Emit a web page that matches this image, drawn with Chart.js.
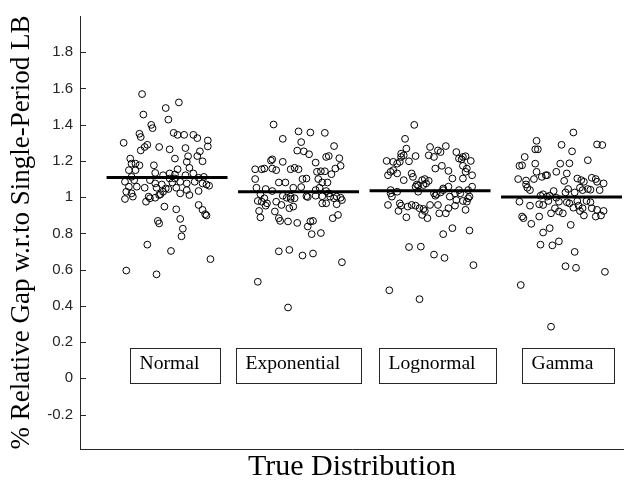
<!DOCTYPE html>
<html>
<head>
<meta charset="utf-8">
<script src="https://cdn.jsdelivr.net/npm/chart.js@4.4.1/dist/chart.umd.min.js"></script>
<style>
html,body{margin:0;padding:0;background:#fff;}
#wrap{width:624px;height:482px;}
</style>
</head>
<body>
<div id="wrap"><canvas id="c" width="624" height="482"></canvas></div>
<script>
const categories = ['Normal', 'Exponential', 'Lognormal', 'Gamma'];

const normalJitter = [-0.19,0.09,-0.01,-0.18,0.01,-0.12,-0.11,-0.21,-0.20,0.05,
 0.08,0.13,0.20,0.23,0.31,-0.33,-0.15,-0.17,-0.06,0.02,
 -0.20,0.14,0.31,0.25,-0.28,0.06,0.16,0.23,0.27,-0.24,
 -0.21,-0.27,-0.10,0.15,0.17,-0.29,-0.24,-0.09,0.08,0.02,
 -0.03,0.06,0.14,0.20,-0.27,-0.25,-0.13,0.02,0.06,0.24,
 0.28,-0.32,-0.09,-0.04,0.04,0.10,0.15,0.21,0.27,0.32,
 0.30,-0.29,-0.23,-0.17,-0.08,-0.01,0.07,0.15,-0.31,-0.27,
 -0.03,0.01,-0.05,0.10,0.17,0.24,-0.26,-0.32,-0.14,-0.13,
 -0.09,-0.06,-0.16,0.24,-0.02,0.07,0.27,0.29,0.30,0.10,
 -0.07,-0.06,0.12,0.11,-0.15,0.03,0.33,-0.31,-0.08];
const normalGap = [1.569,1.523,1.492,1.456,1.428,1.399,1.381,1.350,1.332,1.355,
 1.344,1.344,1.344,1.326,1.313,1.300,1.289,1.277,1.277,1.264,
 1.258,1.271,1.280,1.253,1.213,1.213,1.226,1.227,1.198,1.185,
 1.176,1.185,1.176,1.195,1.162,1.149,1.149,1.134,1.154,1.131,
 1.121,1.125,1.121,1.131,1.112,1.094,1.094,1.103,1.103,1.107,
 1.112,1.085,1.076,1.070,1.081,1.085,1.076,1.085,1.076,1.063,
 1.070,1.058,1.058,1.052,1.052,1.048,1.052,1.039,1.030,1.021,
 1.030,1.045,1.016,1.021,1.012,1.034,1.003,0.990,1.003,0.994,
 0.997,1.012,0.975,0.957,0.948,0.933,0.930,0.906,0.899,0.880,
 0.869,0.855,0.826,0.784,0.738,0.703,0.658,0.595,0.574];

const exponentialJitter = [-0.19,-0.12,0.00,0.09,0.20,0.02,0.27,-0.01,0.04,0.08,
 0.13,0.21,0.23,0.31,-0.12,-0.21,-0.20,-0.33,-0.28,-0.26,
 -0.20,-0.17,-0.06,-0.03,0.00,0.32,0.28,0.14,0.17,0.20,
 0.25,-0.33,-0.15,-0.10,0.03,0.06,0.15,0.18,0.22,0.02,
 -0.32,-0.25,-0.20,-0.04,0.13,0.16,0.21,0.23,-0.29,-0.12,
 -0.09,0.07,0.06,0.13,0.18,0.24,0.29,0.32,0.33,0.27,
 -0.26,-0.31,-0.28,-0.24,-0.25,-0.17,-0.13,-0.06,-0.06,-0.03,
 -0.07,-0.04,0.18,0.21,0.29,-0.30,-0.18,-0.15,-0.14,-0.08,
 -0.01,-0.29,0.26,0.30,0.09,0.11,0.07,0.10,0.17,-0.15,
 -0.07,0.03,0.11,0.33,-0.31,-0.08];
const exponentialGap = [1.401,1.322,1.363,1.357,1.355,1.304,1.282,1.257,1.253,1.237,
 1.191,1.222,1.227,1.215,1.195,1.202,1.209,1.154,1.154,1.158,
 1.158,1.149,1.154,1.162,1.154,1.173,1.158,1.140,1.143,1.143,
 1.127,1.100,1.081,1.081,1.100,1.103,1.100,1.081,1.081,1.056,
 1.052,1.045,1.034,1.052,1.039,1.052,1.034,1.021,1.016,1.008,
 0.997,1.001,1.005,1.008,1.005,1.003,1.003,0.997,0.984,0.994,
 0.994,0.979,0.975,0.966,0.953,0.975,0.957,1.003,0.990,0.994,
 0.939,0.948,0.966,0.966,0.961,0.924,0.921,0.884,0.869,0.866,
 0.858,0.888,0.884,0.902,0.866,0.869,0.838,0.796,0.802,0.701,
 0.709,0.678,0.689,0.641,0.533,0.391];

const lognormalJitter = [-0.12,-0.19,-0.18,-0.22,-0.20,-0.22,-0.11,0.00,-0.01,0.03,
 0.06,0.08,0.12,0.20,0.22,0.24,0.25,0.27,0.31,-0.33,
 -0.28,-0.25,-0.23,-0.16,-0.30,-0.28,-0.25,-0.32,0.04,0.09,
 0.14,0.25,0.28,0.27,0.32,-0.14,-0.13,-0.20,0.17,0.25,
 -0.10,-0.11,-0.06,-0.04,-0.01,-0.09,-0.05,-0.03,0.14,0.10,
 0.32,0.29,-0.30,-0.30,-0.29,-0.25,-0.09,0.03,0.05,0.04,
 0.10,0.08,0.22,0.23,0.19,0.15,0.30,0.29,0.28,-0.32,
 -0.23,-0.22,-0.24,-0.17,-0.14,-0.11,-0.08,-0.05,-0.04,-0.02,
 -0.06,0.00,0.06,0.07,0.12,0.14,0.19,0.20,0.25,0.27,
 -0.18,0.10,0.17,0.30,-0.16,-0.07,0.03,0.11,0.33,-0.31,-0.08];
const lognormalGap = [1.399,1.322,1.268,1.240,1.231,1.222,1.227,1.277,1.231,1.222,
 1.258,1.249,1.282,1.249,1.213,1.209,1.222,1.226,1.200,1.200,
 1.195,1.185,1.195,1.198,1.140,1.149,1.131,1.121,1.158,1.173,
 1.145,1.173,1.158,1.140,1.121,1.131,1.112,1.094,1.103,1.103,
 1.070,1.058,1.094,1.100,1.090,1.063,1.067,1.076,1.058,1.048,
 1.058,1.039,1.039,1.021,1.003,1.030,1.030,1.021,1.016,1.008,
 1.039,1.026,1.039,1.021,1.021,1.003,1.003,0.994,0.975,0.957,
 0.966,0.953,0.924,0.948,0.957,0.953,0.939,0.935,0.924,0.884,
 0.902,0.957,0.957,0.911,0.911,0.939,0.953,0.984,0.979,0.930,
 0.889,0.796,0.829,0.816,0.725,0.727,0.683,0.665,0.625,0.486,0.437];

const gammaJitter = [0.09,-0.19,-0.20,-0.18,0.00,0.08,0.27,0.31,-0.28,-0.32,
 -0.30,-0.20,-0.01,0.06,0.20,-0.04,0.04,-0.19,-0.12,-0.11,
 -0.15,-0.33,-0.27,-0.21,-0.27,-0.26,-0.24,0.02,0.12,0.15,
 0.17,0.23,0.26,0.27,0.32,0.05,0.10,0.14,0.16,0.20,
 0.22,0.29,0.03,-0.06,-0.14,-0.11,-0.09,-0.04,-0.16,-0.32,
 -0.24,-0.17,-0.14,-0.10,-0.02,-0.05,-0.02,0.01,0.12,0.13,
 0.16,0.04,0.06,0.09,0.14,0.17,0.22,0.23,0.27,0.30,
 0.26,0.32,0.19,-0.30,-0.29,-0.23,-0.17,-0.08,0.07,-0.09,
 -0.14,-0.16,-0.07,-0.02,0.10,0.03,0.11,0.33,-0.31,-0.08];
const gammaGap = [1.357,1.311,1.264,1.264,1.289,1.253,1.291,1.288,1.222,1.173,
 1.176,1.185,1.185,1.187,1.204,1.140,1.131,1.140,1.121,1.121,
 1.112,1.100,1.092,1.100,1.070,1.052,1.039,1.090,1.103,1.094,
 1.085,1.107,1.100,1.085,1.076,1.045,1.026,1.052,1.039,1.045,
 1.041,1.039,1.026,1.034,1.016,1.003,1.008,0.997,1.008,0.975,
 0.953,0.961,0.957,0.979,0.975,0.939,0.921,0.911,0.979,0.953,
 0.939,0.972,0.966,0.942,0.924,0.899,0.972,0.939,0.930,0.899,
 0.893,0.924,0.979,0.893,0.884,0.853,0.893,0.911,0.847,0.829,
 0.805,0.738,0.734,0.756,0.698,0.619,0.610,0.588,0.515,0.285];

const meanGap = [1.109, 1.030, 1.036, 1.001];

const yTicks = [-0.2, 0, 0.2, 0.4, 0.6, 0.8, 1, 1.2, 1.4, 1.6, 1.8];
const yTickLabels = ['-0.2', '0', '0.2', '0.4', '0.6', '0.8', '1', '1.2', '1.4', '1.6', '1.8'];

const yTitle = '% Relative Gap w.r.to Single-Period LB';
const xTitle = 'True Distribution';

// ---------- build datasets ----------
const jitters = [normalJitter, exponentialJitter, lognormalJitter, gammaJitter];
const gaps = [normalGap, exponentialGap, lognormalGap, gammaGap];
const AX = '#262626';
const MEAN_HALF = 0.46;

const datasets = [];
categories.forEach((cat, ci) => {
  datasets.push({
    type: 'line',
    label: cat + ' mean',
    data: [{x: ci + 1 - MEAN_HALF, y: meanGap[ci]}, {x: ci + 1 + MEAN_HALF, y: meanGap[ci]}],
    borderColor: '#000',
    borderWidth: 3,
    pointRadius: 0,
    fill: false,
    order: 0
  });
});
categories.forEach((cat, ci) => {
  datasets.push({
    type: 'scatter',
    label: cat,
    data: jitters[ci].map((d, i) => ({x: ci + 1 + d, y: gaps[ci][i]})),
    pointStyle: 'circle',
    pointRadius: 3.4,
    borderColor: '#000',
    borderWidth: 1,
    backgroundColor: 'rgba(0,0,0,0)',
    order: 1
  });
});

// label boxes and inner ticks
const boxLeft = [0.719, 1.527, 2.612, 3.697]; // x (data) of each box's left edge
const boxCenterY = 0.07;
const decor = {
  id: 'decor',
  afterDraw(chart) {
    const ctx = chart.ctx;
    const xs = chart.scales.x, ys = chart.scales.y;
    const area = chart.chartArea;
    ctx.save();
    // inner tick marks on y axis
    ctx.strokeStyle = AX;
    ctx.lineWidth = 1;
    yTicks.forEach(v => {
      const py = Math.round(ys.getPixelForValue(v)) + 0.5;
      ctx.beginPath();
      ctx.moveTo(area.left, py);
      ctx.lineTo(area.left + 6, py);
      ctx.stroke();
    });
    // category text boxes
    ctx.font = '19.6px "Liberation Serif", "Times New Roman", serif';
    ctx.textBaseline = 'alphabetic';
    ctx.textAlign = 'left';
    categories.forEach((cat, ci) => {
      const x0 = Math.round(xs.getPixelForValue(boxLeft[ci])) + 0.5;
      const cy = ys.getPixelForValue(boxCenterY);
      const tw = ctx.measureText(cat).width;
      const w = Math.round(tw + 30);
      const h = 35;
      const y0 = Math.round(cy - h / 2) + 0.5;
      ctx.strokeStyle = AX;
      ctx.strokeRect(x0, y0, w, h);
      ctx.fillStyle = '#000';
      ctx.fillText(cat, x0 + 9, cy + 3);
    });
    ctx.restore();
  }
};

new Chart(document.getElementById('c'), {
  data: {datasets},
  options: {
    responsive: false,
    devicePixelRatio: 1,
    animation: false,
    layout: {autoPadding: false, padding: {top: 13, right: 0, bottom: 0, left: 0}},
    plugins: {legend: {display: false}, tooltip: {enabled: false}},
    scales: {
      x: {
        type: 'linear',
        min: 0.338,
        max: 4.475,
        grid: {display: false, drawTicks: false},
        border: {display: true, color: AX, width: 1},
        ticks: {display: false},
        title: {
          display: true,
          text: xTitle,
          color: '#000',
          font: {family: '"Liberation Serif", "Times New Roman", serif', size: 30, lineHeight: 1},
          padding: {top: 0, bottom: 0}
        },
        afterFit: s => { s.height = 33; }
      },
      y: {
        type: 'linear',
        min: -0.39,
        max: 2.0,
        grid: {display: false, drawTicks: false},
        border: {display: true, color: AX, width: 1},
        afterBuildTicks: s => { s.ticks = yTicks.map(v => ({value: v})); },
        ticks: {
          color: AX,
          padding: 7,
          font: {family: '"Liberation Sans", Arial, sans-serif', size: 15},
          callback: (v) => { const i = yTicks.indexOf(v); return i >= 0 ? yTickLabels[i] : ''; }
        },
        title: {
          display: true,
          text: yTitle,
          color: '#000',
          font: {family: '"Liberation Serif", "Times New Roman", serif', size: 27, lineHeight: 1.2},
          padding: {top: 6, bottom: 0}
        },
        afterFit: s => { s.width = 80; }
      }
    }
  },
  plugins: [decor]
});
</script>
</body>
</html>
